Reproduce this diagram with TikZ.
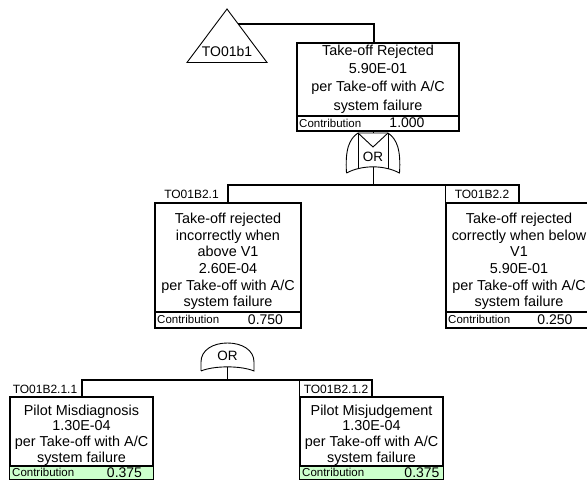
\documentclass[tikz,border=0pt]{standalone}
\usepackage{fontspec}
\setmainfont{Liberation Sans}
\definecolor{contribgreen}{RGB}{204,255,204}
\tikzset{
  evbox/.style={draw, line width=1.8pt, inner sep=0pt},
  txt/.style={font=\fontsize{14.4}{16}\selectfont, inner sep=0pt, text height=10.3pt, text depth=3pt},
  ctxt/.style={font=\fontsize{11.5}{13}\selectfont, inner sep=0pt, anchor=west, text height=8.3pt, text depth=0pt},
  vtxt/.style={font=\fontsize{14}{16}\selectfont, inner sep=0pt, text height=10pt, text depth=0pt},
  lbl/.style={font=\fontsize{12}{14}\selectfont, inner sep=0pt, text height=8.6pt, text depth=0pt},
  gtxt/.style={font=\fontsize{13.5}{15}\selectfont, inner sep=0pt, text height=9.7pt, text depth=0pt},
  conn/.style={line width=2pt},
  thinl/.style={line width=0.9pt},
  sepl/.style={line width=1.3pt},
}
\begin{document}
\begin{tikzpicture}[x=1pt,y=-1pt]
\clip (0,0) rectangle (587,489);
\fill[white] (0,0) rectangle (587,489);

% ---------- transfer triangle ----------
\draw[thinl] (227,9) -- (267,62.5) -- (187,62.5) -- cycle;
\node[vtxt] (tri) at (227,51.5) {TO01b1};
\coordinate (triR) at (238.3,24);
\coordinate (topdrop) at (374,43);

% ---------- top event ----------
\node[evbox, minimum width=162pt, minimum height=88pt] (top) at (378,87) {};
\node[txt] (t1) at (378,52) {Take-off Rejected};
\node[txt] (t2) at (378,70) {5.90E-01};
\node[txt] (t3) at (378,88) {per Take-off with A/C};
\node[txt] (t4) at (378,106.5) {system failure};
\draw[sepl] ([yshift=16pt]top.south west) -- ([yshift=16pt]top.south east);
\node[ctxt] (tc) at (299,123) {Contribution};
\node[vtxt] (tv) at (407,123) {1.000};

\draw[conn] (triR) -| (topdrop);

% ---------- top gate (OR) ----------
\draw[thinl] (346.5,173) .. controls (345,150) and (349,139) .. (358,133)
  -- (388,133) .. controls (397,139) and (401,150) .. (399.5,173)
  .. controls (384,164.8) and (362,164.8) .. (346.5,173);
\draw[thinl] (358,133) -- (358,169.5);
\draw[thinl] (388,133) -- (388,169.5);
\draw[thinl] (358,133) -- (373,147) -- (388,133);
\draw[thinl] (373,131) -- (373,133);
\node[gtxt] (g1) at (373,156.5) {OR};
\coordinate (g1s) at (373,166.8);
\coordinate (g1b) at (373,186);
\draw[thinl] (g1s) -- (g1b);

% ---------- level 2 boxes ----------
\node[evbox, minimum width=146pt, minimum height=125pt] (b21) at (228,265.5) {};
\node[txt] (a1) at (228,220) {Take-off rejected};
\node[txt] (a2) at (228,236.6) {incorrectly when};
\node[txt] (a3) at (228,253.2) {above V1};
\node[txt] (a4) at (228,269.8) {2.60E-04};
\node[txt] (a5) at (228,286.4) {per Take-off with A/C};
\node[txt] (a6) at (228,303) {system failure};
\draw[sepl] ([yshift=17pt]b21.south west) -- ([yshift=17pt]b21.south east);
\node[ctxt] (ac) at (157,319.5) {Contribution};
\node[vtxt] (av) at (265.5,319.5) {0.750};
\node[lbl] (l21) at (191.5,194.5) {TO01B2.1};

\node[evbox, minimum width=146pt, minimum height=125pt] (b22) at (519,265.5) {};
\node[txt] (c1) at (519,220) {Take-off rejected};
\node[txt] (c2) at (519,236.6) {correctly when below};
\node[txt] (c3) at (519,253.2) {V1};
\node[txt] (c4) at (519,269.8) {5.90E-01};
\node[txt] (c5) at (519,286.4) {per Take-off with A/C};
\node[txt] (c6) at (519,303) {system failure};
\draw[sepl] ([yshift=17pt]b22.south west) -- ([yshift=17pt]b22.south east);
\node[ctxt] (cc) at (448,319.5) {Contribution};
\node[vtxt] (cv) at (555,319.5) {0.250};
\node[lbl] (l22) at (482,194.5) {TO01B2.2};
\draw[thinl] (b22.north west) -- ++(0,-17);

\draw[conn] (b21.north) -- ++(0,-17) -| (b22.north);

% ---------- lower gate (OR) ----------
\draw[thinl] (201,371) -- (201,362) .. controls (201,350) and (213,343) .. (227.5,343)
  .. controls (242,343) and (254,350) .. (254,362) -- (254,371)
  .. controls (241,365.5) and (214,365.5) .. (201,371);
\node[gtxt] (g2) at (227.5,355.5) {OR};
\coordinate (g2s) at (227.5,366.9);
\coordinate (g2b) at (227.5,381);
\draw[thinl] (g2s) -- (g2b);

% ---------- level 3 boxes ----------
\node[evbox, minimum width=143pt, minimum height=82pt] (b211) at (81.5,438) {};
\fill[contribgreen] ([xshift=0.9pt,yshift=14pt]b211.south west) rectangle ([xshift=-0.9pt,yshift=0.9pt]b211.south east);
\node[txt] (d1) at (81.5,411.5) {Pilot Misdiagnosis};
\node[txt] (d2) at (81.5,427) {1.30E-04};
\node[txt] (d3) at (81.5,443) {per Take-off with A/C};
\node[txt] (d4) at (81.5,458.5) {system failure};
\draw[sepl] ([yshift=14pt]b211.south west) -- ([yshift=14pt]b211.south east);
\node[ctxt] (dc) at (12,472) {Contribution};
\node[vtxt] (dv) at (124.5,472) {0.375};
\node[lbl] (l211) at (45,389) {TO01B2.1.1};

\node[evbox, minimum width=143pt, minimum height=82pt] (b212) at (371.5,438) {};
\fill[contribgreen] ([xshift=0.9pt,yshift=14pt]b212.south west) rectangle ([xshift=-0.9pt,yshift=0.9pt]b212.south east);
\node[txt] (e1) at (371.5,411.5) {Pilot Misjudgement};
\node[txt] (e2) at (371.5,427) {1.30E-04};
\node[txt] (e3) at (371.5,443) {per Take-off with A/C};
\node[txt] (e4) at (371.5,458.5) {system failure};
\draw[sepl] ([yshift=14pt]b212.south west) -- ([yshift=14pt]b212.south east);
\node[ctxt] (ec) at (302,472) {Contribution};
\node[vtxt] (ev) at (422,472) {0.375};
\node[lbl] (l212) at (336,389) {TO01B2.1.2};
\draw[thinl] (b212.north west) -- ++(0,-16);

\draw[conn] (b211.north) -- ++(0,-16) -| (b212.north);
\end{tikzpicture}
\end{document}
